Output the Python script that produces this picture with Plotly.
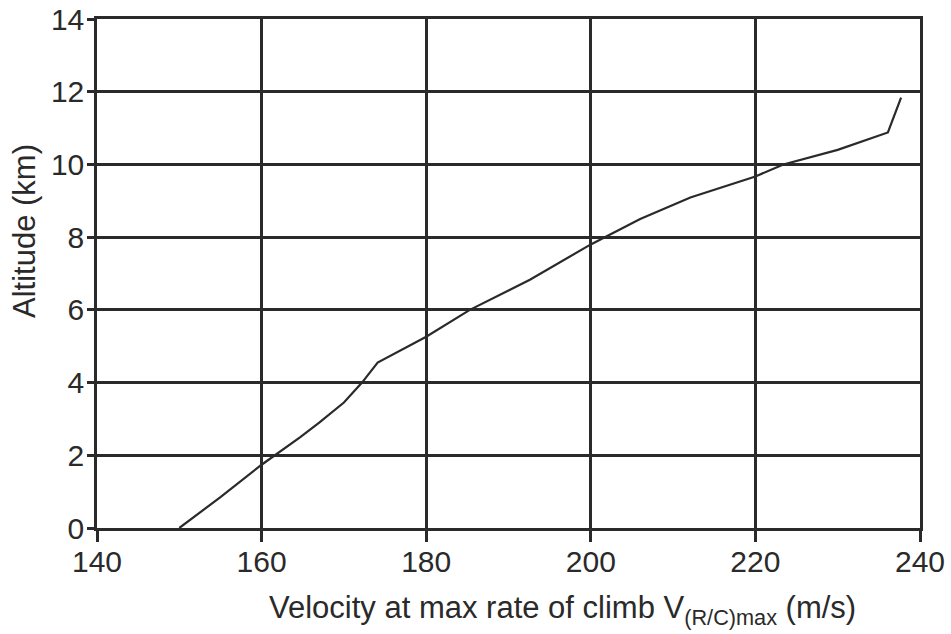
import plotly.graph_objects as go

velocity = [150.0, 155.0, 160.0, 164.7, 167.0, 170.0, 172.2, 174.1, 180.0, 185.3,
            192.6, 200.0, 206.0, 212.1, 220.0, 223.4, 230.0, 236.1, 237.7]
altitude = [0.0, 0.85, 1.74, 2.5, 2.9, 3.45, 4.0, 4.55, 5.26, 6.0,
            6.83, 7.8, 8.5, 9.09, 9.67, 10.0, 10.4, 10.88, 11.84]

x_ticks = [140, 160, 180, 200, 220, 240]
y_ticks = [0, 2, 4, 6, 8, 10, 12, 14]

x_title = "Velocity at max rate of climb V<sub>(R/C)max</sub> (m/s)"
y_title = "Altitude (km)"

ink = "#2a2a2a"
font = "Liberation Sans, Arial, sans-serif"

fig = go.Figure()
fig.add_trace(go.Scatter(x=velocity, y=altitude, mode="lines",
                         line=dict(color=ink, width=2.2), showlegend=False,
                         hoverinfo="skip"))

fig.update_layout(
    width=951, height=634,
    margin=dict(l=97, r=31, t=19, b=106, pad=0),
    paper_bgcolor="white", plot_bgcolor="white",
    font=dict(family=font, size=30, color=ink),
)
fig.update_xaxes(
    range=[140, 240], tickvals=x_ticks, ticktext=[str(v) for v in x_ticks],
    showgrid=True, gridcolor=ink, gridwidth=2.5,
    showline=True, linecolor=ink, linewidth=2.5, mirror=True,
    ticks="outside", ticklen=11, tickwidth=2.5, tickcolor=ink,
    zeroline=False, tickfont=dict(size=30), automargin=False,
    ticklabelstandoff=-6,
)
fig.update_yaxes(
    range=[0, 14], tickvals=y_ticks, ticktext=[str(v) for v in y_ticks],
    showgrid=True, gridcolor=ink, gridwidth=2.5,
    showline=True, linecolor=ink, linewidth=2.5, mirror=True,
    ticks="outside", ticklen=7, tickwidth=2.5, tickcolor=ink,
    zeroline=False, tickfont=dict(size=30), automargin=False,
    ticklabelstandoff=-3,
)
fig.add_annotation(text=x_title, xref="paper", yref="paper",
                   x=(562 - 97) / (920 - 97), y=-(610 - 528) / (528 - 19),
                   xanchor="center", yanchor="middle", showarrow=False,
                   font=dict(size=31, color=ink))
fig.add_annotation(text=y_title, xref="paper", yref="paper",
                   x=-(97 - 24) / (920 - 97), y=(528 - 231) / (528 - 19),
                   xanchor="center", yanchor="middle", showarrow=False,
                   textangle=-90, font=dict(size=31, color=ink))

fig.write_html("out.html")
